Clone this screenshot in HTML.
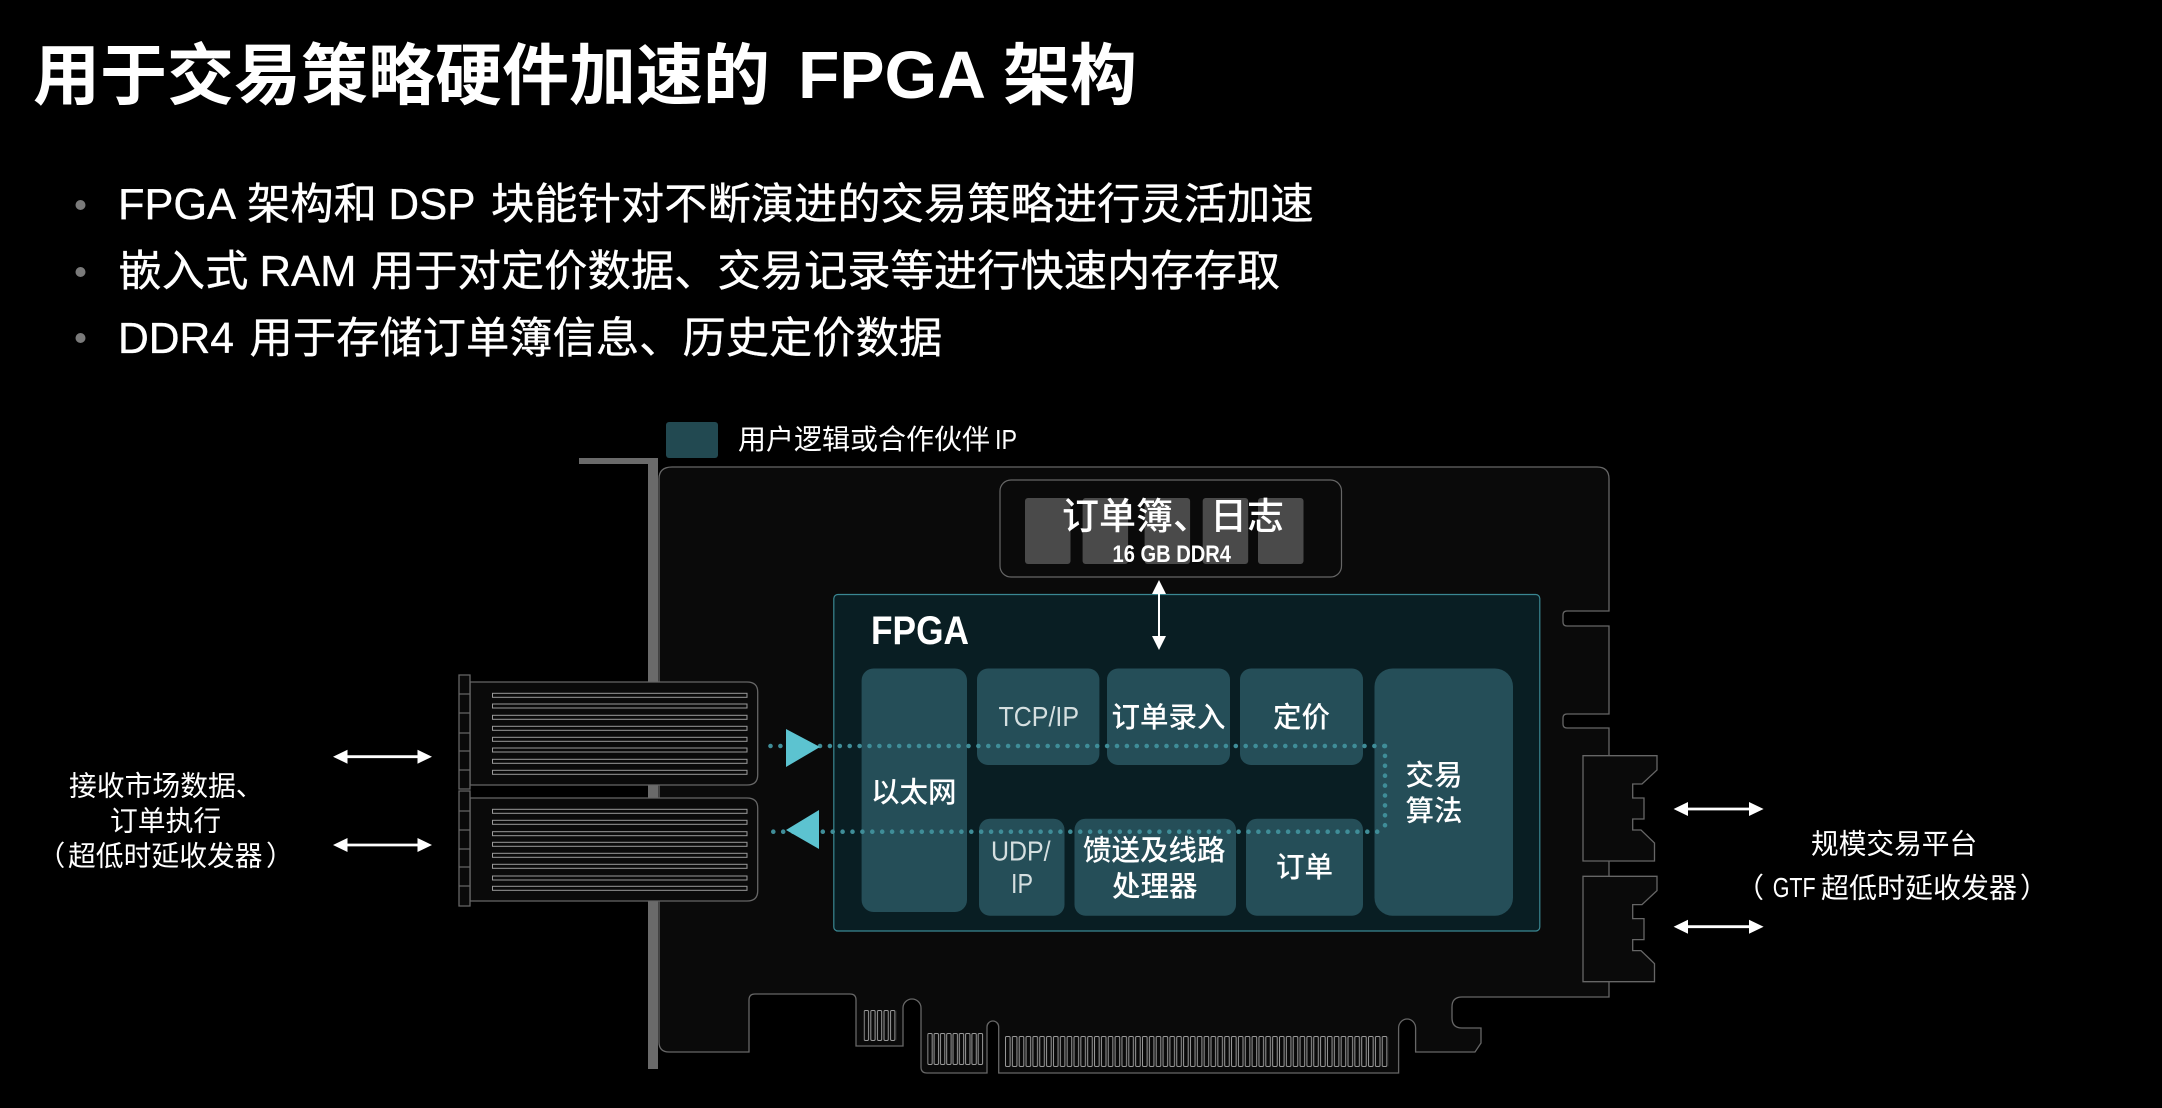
<!DOCTYPE html>
<html lang="zh">
<head>
<meta charset="utf-8">
<title>FPGA</title>
<style>
html,body{margin:0;padding:0;background:#000;width:2162px;height:1108px;overflow:hidden}
svg{display:block}
text{font-family:"Liberation Sans","Noto Sans CJK SC",sans-serif;fill:#fff}
.n{font-family:"Liberation Sans Narrow","Liberation Sans","Noto Sans CJK SC",sans-serif}
.m{font-weight:500;font-size:28.5px}
.b{font-size:43.3px;stroke:#fff;stroke-width:.35px}
.t{font-size:67px;font-weight:700}
.o{fill:#0a0a0a;stroke:#666;stroke-width:1.3}
.k{fill:#254e58}
.s{fill:none;stroke:#9a9a9a;stroke-width:1}
.c{fill:#4a4a4a}
.w{fill:#fff;stroke:none}
.d{fill:none;stroke:#3f8d98;stroke-width:4.6;stroke-linecap:round;stroke-dasharray:0 9.9}
</style>
</head>
<body>
<svg xmlns="http://www.w3.org/2000/svg" width="2162" height="1108" viewBox="0 0 2162 1108">
<defs>
<pattern id="p1" patternUnits="userSpaceOnUse" x="863.7" y="1010" width="6.6" height="31"><rect class="s" x=".5" y=".5" width="4.3" height="30" rx="1.2"/></pattern>
<pattern id="p2" patternUnits="userSpaceOnUse" x="927.3" y="1033" width="6.3" height="32"><rect class="s" x=".5" y=".5" width="4.4" height="31" rx="1.2"/></pattern>
<pattern id="p3" patternUnits="userSpaceOnUse" x="1005" y="1036" width="6.85" height="31"><rect class="s" x=".5" y=".5" width="4.6" height="30" rx="1.2"/></pattern>
</defs>
<rect width="2162" height="1108" fill="#000"/>

<!-- title -->
<text class="t" x="33" y="99">用于交易策略硬件加速的</text>
<text class="t" x="798" y="98" textLength="188" lengthAdjust="spacingAndGlyphs">FPGA</text>
<text class="t" x="1003" y="99">架构</text>

<!-- bullets -->
<circle cx="80.5" cy="205" r="5" fill="#7a7a7a"/>
<circle cx="80.5" cy="272" r="5" fill="#7a7a7a"/>
<circle cx="80.5" cy="338" r="5" fill="#7a7a7a"/>
<text class="b" x="118" y="219" textLength="118" lengthAdjust="spacingAndGlyphs">FPGA</text>
<text class="b" x="247" y="219">架构和</text>
<text class="b" x="388.5" y="219" textLength="87" lengthAdjust="spacingAndGlyphs">DSP</text>
<text class="b" x="491" y="219">块能针对不断演进的交易策略进行灵活加速</text>
<text class="b" x="118.5" y="286">嵌入式</text>
<text class="b" x="259.5" y="286" textLength="97" lengthAdjust="spacingAndGlyphs">RAM</text>
<text class="b" x="371" y="286">用于对定价数据、交易记录等进行快速内存存取</text>
<text class="b" x="118" y="353" textLength="116" lengthAdjust="spacingAndGlyphs">DDR4</text>
<text class="b" x="249.5" y="353">用于存储订单簿信息、历史定价数据</text>

<!-- legend -->
<rect x="666" y="422" width="52" height="36" rx="3" fill="#224951"/>
<text x="738" y="449" font-size="28">用户逻辑或合作伙伴</text>
<text class="n" x="995" y="449" font-size="28" textLength="22" lengthAdjust="spacingAndGlyphs">IP</text>

<!-- bracket -->
<path d="M579 458H658V1069H648V464H579Z" fill="#6a6a6a"/>

<!-- board -->
<path class="o" d="M672 467H1597Q1609 467 1609 479V611H1567Q1563 611 1563 615V622Q1563 626 1567 626H1609V714H1567Q1563 714 1563 718V724Q1563 728 1567 728H1609V997H1462Q1452 997 1452 1007V1018Q1452 1028 1462 1028H1481V1043L1475 1052H1415.6V1028A8.5 9 0 0 0 1398.6 1028V1073H998.7V1027A5.85 6 0 0 0 987 1027V1073H927Q921 1073 921 1067V1008A9 9 0 0 0 903 1008V1046H856V1000Q856 994 850 994H755Q749 994 749 1000V1052H669Q659 1052 659 1042V479Q659 467 672 467Z"/>

<!-- fingers -->
<rect x="863.7" y="1010" width="33" height="31" fill="url(#p1)"/>
<rect x="927.3" y="1033" width="56.7" height="32" fill="url(#p2)"/>
<rect x="1005" y="1036" width="383.6" height="31" fill="url(#p3)"/>

<!-- right connectors -->
<path class="o" d="M1583 755.7H1657V770L1642 784H1632.7V798H1644V819H1632.7V830H1641L1654.5 843V861H1583Z"/>
<path class="o" d="M1583 876.3H1657V890.6L1642 904.6H1632.7V918.6H1644V939.6H1632.7V950.6H1641L1654.5 963.6V981.7H1583Z"/>

<!-- QSFP -->
<path class="o" d="M470 682H747Q757.7 682 757.7 692V775Q757.7 785 747 785H470Z"/>
<path class="o" d="M470 798H747Q757.7 798 757.7 808V891Q757.7 901 747 901H470Z"/>
<path class="o" d="M459 675H470V789H459ZM459 694H470M459 713H470M459 733H470M459 751H470M459 770H470"/>
<path class="o" d="M459 791H470V906H459ZM459 811H470M459 830H470M459 849H470M459 867H470M459 886H470"/>
<g>
<rect class="s" x="492.5" y="693.3" width="254.5" height="4"/>
<rect class="s" x="492.5" y="704" width="254.5" height="4"/>
<rect class="s" x="492.5" y="715.3" width="254.5" height="4"/>
<rect class="s" x="492.5" y="726.3" width="254.5" height="4"/>
<rect class="s" x="492.5" y="737.3" width="254.5" height="4"/>
<rect class="s" x="492.5" y="748" width="254.5" height="4"/>
<rect class="s" x="492.5" y="759.3" width="254.5" height="4"/>
<rect class="s" x="492.5" y="770.3" width="254.5" height="4"/>
<rect class="s" x="492.5" y="809.3" width="254.5" height="4"/>
<rect class="s" x="492.5" y="820.3" width="254.5" height="4"/>
<rect class="s" x="492.5" y="831.7" width="254.5" height="4"/>
<rect class="s" x="492.5" y="842.3" width="254.5" height="4"/>
<rect class="s" x="492.5" y="853.3" width="254.5" height="4"/>
<rect class="s" x="492.5" y="864.3" width="254.5" height="4"/>
<rect class="s" x="492.5" y="876" width="254.5" height="4"/>
<rect class="s" x="492.5" y="886.3" width="254.5" height="4"/>
</g>

<!-- memory -->
<rect x="1000" y="480" width="341.5" height="97" rx="11" fill="#0a0a0a" stroke="#666" stroke-width="1.2"/>
<rect class="c" x="1025" y="498" width="45.5" height="66" rx="3"/>
<rect class="c" x="1082.6" y="498" width="45.5" height="66" rx="3"/>
<rect class="c" x="1144.6" y="498" width="45.5" height="66" rx="3"/>
<rect class="c" x="1202.7" y="498" width="45.5" height="66" rx="3"/>
<rect class="c" x="1258" y="498" width="45.5" height="66" rx="3"/>
<text x="1062" y="529" font-size="37" font-weight="500">订单簿、日志</text>
<text class="n" x="1112.5" y="562" font-size="24" font-weight="700" textLength="118.5" lengthAdjust="spacingAndGlyphs">16 GB DDR4</text>

<!-- FPGA -->
<rect x="833.8" y="594.5" width="706" height="336.5" rx="4" fill="#091e23" stroke="#3a8792" stroke-width="1.2"/>
<text class="n" x="871" y="644" font-size="40" font-weight="700" textLength="98" lengthAdjust="spacingAndGlyphs">FPGA</text>

<rect class="k" x="861.6" y="668.5" width="105.4" height="243.5" rx="12"/>
<rect class="k" x="977" y="668.5" width="122.4" height="96.5" rx="11"/>
<rect class="k" x="1107" y="668.5" width="123" height="96.5" rx="11"/>
<rect class="k" x="1240" y="668.5" width="123" height="96.5" rx="11"/>
<rect class="k" x="1374.5" y="668.5" width="138.5" height="247.2" rx="18"/>
<rect class="k" x="979" y="818.7" width="85.5" height="97" rx="11"/>
<rect class="k" x="1074.5" y="818.7" width="161.5" height="97" rx="11"/>
<rect class="k" x="1246" y="818.7" width="117" height="97" rx="11"/>

<!-- dotted bus -->
<path class="d" d="M770.5 746H1385"/>
<path class="d" d="M773.3 831.7H1385"/>
<path class="d" d="M1385 746V832"/>
<path d="M786 729V767L820 747Z" fill="#5cc3d0"/>
<path d="M786 830L819 810V849Z" fill="#5cc3d0"/>

<!-- block labels -->
<text class="n" x="998.5" y="726" font-size="28" style="fill:#d5dfe0" textLength="80.5" lengthAdjust="spacingAndGlyphs">TCP/IP</text>
<text class="m" x="1111.5" y="727">订单录入</text>
<text class="m" x="1273" y="727">定价</text>
<text class="m" x="871" y="802">以太网</text>
<text class="m" x="1405.5" y="785">交易</text>
<text class="m" x="1405.5" y="820.5">算法</text>
<text class="n" x="991" y="860.7" font-size="28" style="fill:#d5dfe0" textLength="59.6" lengthAdjust="spacingAndGlyphs">UDP/</text>
<text class="n" x="1011" y="893" font-size="28" style="fill:#d5dfe0" textLength="22" lengthAdjust="spacingAndGlyphs">IP</text>
<text class="m" x="1083" y="860">馈送及线路</text>
<text class="m" x="1112" y="896">处理器</text>
<text class="m" x="1276" y="877">订单</text>

<!-- arrows -->
<path class="w" d="M1159 580L1166 594H1160V636H1166L1159 650L1152 636H1158V594H1152Z"/>
<path class="w" d="M333 756.7L347.5 749.7V755.3H417.5V749.7L432 756.7L417.5 763.7V758.1H347.5V763.7Z"/>
<path class="w" d="M333 845L347.5 838V843.6H417.5V838L432 845L417.5 852V846.4H347.5V852Z"/>
<path class="w" d="M1673.6 809L1688 802V807.6H1749V802L1763.6 809L1749 816V810.4H1688V816Z"/>
<path class="w" d="M1673.6 926.7L1688 919.7V925.3H1749V919.7L1763.6 926.7L1749 933.7V928.1H1688V933.7Z"/>

<!-- side labels -->
<text x="69" y="795.6" font-size="27.8">接收市场数据、</text>
<text x="110" y="830.6" font-size="27.8">订单执行</text>
<text x="37.5" y="865.6" font-size="27.8">（</text>
<text x="68" y="865.6" font-size="27.8">超低时延收发器</text>
<text x="266" y="865.6" font-size="27.8">）</text>
<text x="1811" y="853.5" font-size="27.7">规模交易平台</text>
<text x="1736" y="897.6" font-size="28">（</text>
<text class="n" x="1772.7" y="897" font-size="28" textLength="43" lengthAdjust="spacingAndGlyphs">GTF</text>
<text x="1821" y="897.6" font-size="28">超低时延收发器</text>
<text x="2020" y="897.6" font-size="28">）</text>
</svg>
</body>
</html>
